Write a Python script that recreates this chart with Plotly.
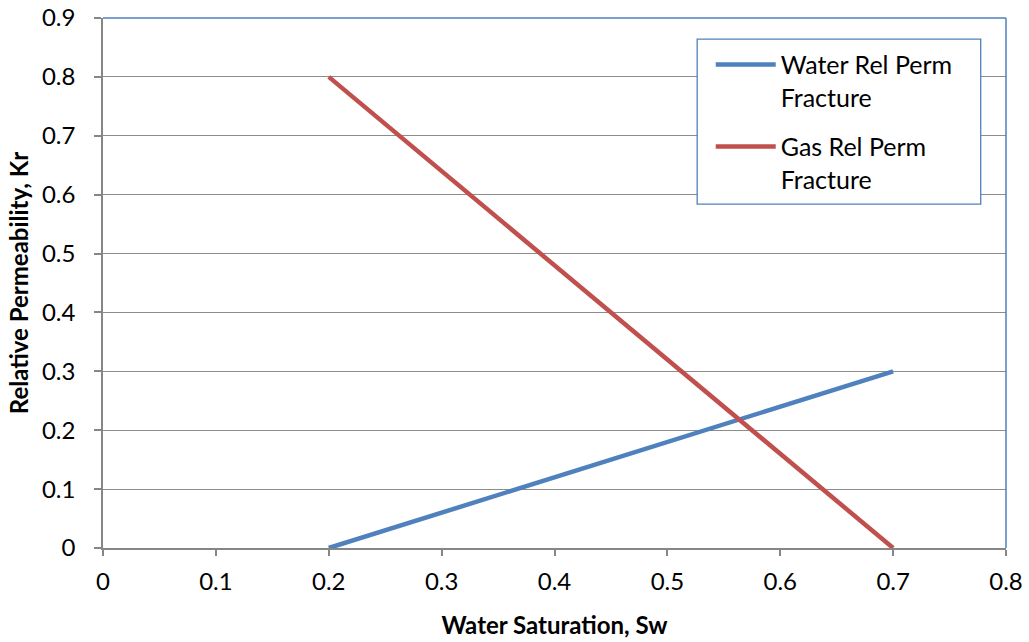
import plotly.graph_objects as go

sw = [0.2, 0.7]
krw = [0.0, 0.3]
krg = [0.8, 0.0]
x_ticks = [0, 0.1, 0.2, 0.3, 0.4, 0.5, 0.6, 0.7, 0.8]
y_ticks = [0, 0.1, 0.2, 0.3, 0.4, 0.5, 0.6, 0.7, 0.8, 0.9]

FONT = "Lato"
FS = 24
fig = go.Figure()
fig.add_trace(go.Scatter(x=sw, y=krw, mode="lines", name="Water Rel Perm<br>Fracture",
                         legendgroup="w",
                         line=dict(color="#4F81BD", width=4.5)))
fig.add_trace(go.Scatter(x=sw, y=krg, mode="lines", name="Gas Rel Perm<br>Fracture",
                         legendgroup="g",
                         line=dict(color="#C0504D", width=4.5)))

fig.update_layout(
    width=1029, height=642,
    margin=dict(l=103, r=23, t=18, b=94),
    paper_bgcolor="white", plot_bgcolor="white",
    font=dict(family=FONT, size=FS, color="black"),
    showlegend=True,
    legend=dict(x=0.673, y=0.955, xanchor="left", yanchor="top",
                borderwidth=0, bgcolor="rgba(0,0,0,0)", valign="top",
                font=dict(family=FONT, size=25), tracegroupgap=14,
                itemwidth=60),
    xaxis=dict(range=[0, 0.8], tickvals=x_ticks, ticktext=[f"{v:g}" for v in x_ticks],
               showgrid=False, zeroline=False, showline=True, linecolor="#868686", linewidth=1.5,
               ticks="outside", ticklen=6, tickcolor="#868686", tickwidth=1.5, automargin=False,
               ticklabelstandoff=5,
               title=dict(text="<b>Water Saturation, Sw</b>", font=dict(size=24), standoff=24),
               tickfont=dict(size=FS)),
    yaxis=dict(range=[0, 0.9], tickvals=y_ticks, ticktext=[f"{v:g}" for v in y_ticks],
               showgrid=True, gridcolor="#8C8C8C", gridwidth=1.3, zeroline=False,
               showline=True, linecolor="#868686", linewidth=1.5, automargin=False,
               ticks="outside", ticklen=7, tickcolor="#868686", tickwidth=1.5,
               ticklabelstandoff=14,
               title=dict(text="<b>Relative Permeability, Kr</b>", font=dict(size=24), standoff=7),
               tickfont=dict(size=FS)),
    shapes=[
        dict(type="line", xref="paper", yref="paper", x0=0, x1=1, y0=1, y1=1,
             line=dict(color="#4F81BD", width=1.5)),
        dict(type="line", xref="paper", yref="paper", x0=1, x1=1, y0=0, y1=1,
             line=dict(color="#4F81BD", width=1.5)),
        dict(type="rect", xref="paper", yref="paper", x0=0.658, x1=0.972, y0=0.649, y1=0.960,
             line=dict(color="#4F81BD", width=1.3), fillcolor="white", layer="above"),
    ],
)
fig.write_html("out.html")
